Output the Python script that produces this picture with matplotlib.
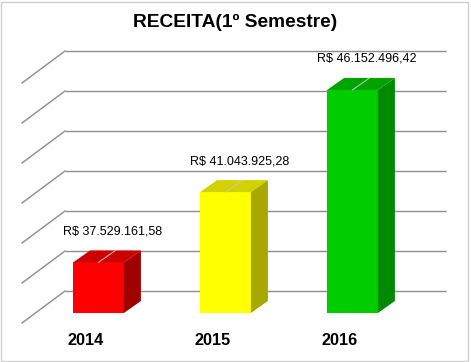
import matplotlib
matplotlib.use('Agg')
import matplotlib.pyplot as plt
from matplotlib.patches import Polygon, Rectangle

plt.rcParams['font.family'] = ['Liberation Sans', 'DejaVu Sans']

#dados
anos = ['2014', '2015', '2016']
receita = [37529161.58, 41043925.28, 46152496.42]
cor_frente = ['#ff0000', '#ffff00', '#00cc00']
cor_topo = ['#cc0000', '#d2d200', '#00a300']
cor_lado = ['#a00000', '#a8a800', '#008a00']
base = 35e6
passo = 2e6
grade = [base + passo * k for k in range(7)]

#escala: pixels por categoria e por milhao
PX_CAT = 127.0
PX_MI = 20.0
def dx(px):
    return px / PX_CAT
def dy(px):
    return px / PX_MI * 1e6

def brl(v):
    s = '{:,.2f}'.format(v)
    return 'R$ ' + s.replace(',', '#').replace('.', ',').replace('#', '.')

fig = plt.figure(figsize=(4.71, 3.62), dpi=100)
ax = fig.add_axes([0, 0, 1, 1])
ax.set_xlim(dx(-98.5), dx(471 - 98.5))
ax.set_ylim(base - dy(362 - 313), base + dy(313))
ax.axis('off')

#parede do fundo e lateral
x0 = dx(65 - 98.5)
x1 = dx(445.5 - 98.5)
for g in grade:
    y = g + dy(22)
    ax.plot([x0, x1], [y, y], color='#8c8c8c', lw=1, zorder=1, solid_capstyle='butt')
    ax.plot([x0, x0 - dx(43)], [y, y - dy(32)], color='#8c8c8c', lw=1, zorder=1)

#barras 3d
w = 0.40
ddx = dx(17)
ddy = dy(12)
xs = list(range(len(anos)))
ax.bar(xs, [v - base for v in receita], bottom=base, width=w, color=cor_frente, zorder=3)
for i, v in enumerate(receita):
    l = i - w / 2
    r = i + w / 2
    ax.add_patch(Polygon([(l, v), (r, v), (r + ddx, v + ddy), (l + ddx, v + ddy)],
                         closed=True, color=cor_topo[i], zorder=3, lw=0))
    ax.add_patch(Polygon([(r, base), (r + ddx, base + ddy), (r + ddx, v + ddy), (r, v)],
                         closed=True, color=cor_lado[i], zorder=3, lw=0))
    ax.plot([i, i + ddx], [v, v + ddy], color='#c8c8c8', lw=0.7, zorder=4)
    ax.annotate(brl(v), (i + dx(14), v), xytext=(0, 31), textcoords='offset pixels',
                ha='center', va='center', fontsize=9, color='#000000', zorder=5)
    ax.text(i - dx(13), base - dy(27), anos[i], ha='center', va='center',
            fontsize=11.7, fontweight='bold', color='#000000')

fig.text(235 / 471, 1 - 22 / 362, 'RECEITA(1º Semestre)', ha='center', va='center',
         fontsize=13.8, fontweight='bold')

#borda
fig.patches.append(Rectangle((1 / 471, 1 / 362), 467 / 471, 359 / 362, transform=fig.transFigure,
                             fill=False, edgecolor='#d0d0d0', lw=1))

fig.savefig('out.png', dpi=100)
